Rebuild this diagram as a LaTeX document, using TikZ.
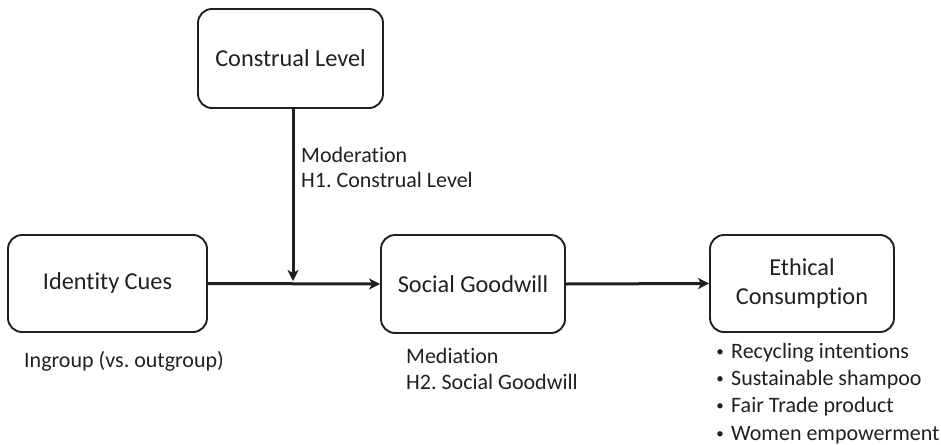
\documentclass[tikz,border=0pt]{standalone}
\usepackage{fontspec}
\setmainfont[Ligatures=NoCommon]{Carlito}
\usetikzlibrary{arrows.meta}
\definecolor{ink}{HTML}{231F20}
\frenchspacing
\begin{document}
\begin{tikzpicture}[x=1pt,y=-1pt,
  box/.style={draw=ink, line width=1.9pt, rounded corners=14pt, text=ink,
    font=\fontsize{24.3}{29}\selectfont, align=center, inner sep=0pt},
  arr/.style={draw=ink, line width=3pt, -{Stealth[length=11pt,width=11pt,inset=3pt]}},
  lbl/.style={text=ink, font=\fontsize{22}{26}\selectfont, inner sep=0pt, anchor=base west},
  bul/.style={text=ink, font=\fontsize{15}{15}\selectfont, inner sep=0pt, anchor=base},
]
\useasboundingbox (0,0) rectangle (941,444);
\node[box, minimum width=185pt, minimum height=99pt] (cl) at (290.5,58.5) {Construal Level};
\node[box, minimum width=199pt, minimum height=97pt] (ic) at (107.5,283.5) {Identity Cues};
\node[box, minimum width=184pt, minimum height=98pt] (sg) at (473,284) {Social Goodwill};
\node[box, minimum width=184pt, minimum height=97pt] (ec) at (802,283.5) {Ethical\\Consumption};
\coordinate (m) at (293,281);
\draw[arr] (ic.east) -- (sg.west);
\draw[arr] (sg.east) -- (ec.west);
\draw[arr] (cl.south -| m) -- (m);
\node[lbl] (mod1) at (301,162) {Moderation};
\node[lbl] (mod2) at (301,187) {H1. Construal Level};
\node[lbl] (ing) at (24,367) {Ingroup (vs. outgroup)};
\node[lbl] (med1) at (406,363) {Mediation};
\node[lbl] (med2) at (406,389) {H2. Social Goodwill};
\node[bul] (b1) at (720,356) {\textbullet};
\node[lbl] (t1) at (731,358) {Recycling intentions};
\node[bul] (b2) at (720,383.5) {\textbullet};
\node[lbl] (t2) at (731,385.5) {Sustainable shampoo};
\node[bul] (b3) at (720,410.5) {\textbullet};
\node[lbl] (t3) at (731,412.5) {Fair Trade product};
\node[bul] (b4) at (720,438) {\textbullet};
\node[lbl] (t4) at (731,440) {Women empowerment};
\end{tikzpicture}
\end{document}
